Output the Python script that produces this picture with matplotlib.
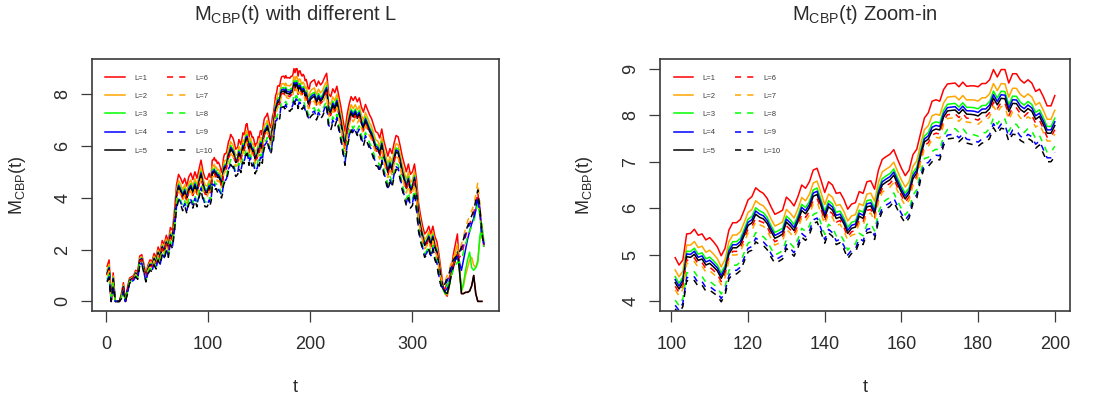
import numpy as np
import matplotlib
matplotlib.use("Agg")
import matplotlib.pyplot as plt
from matplotlib.ticker import FixedLocator

plt.rcParams['font.family'] = ['Liberation Sans', 'DejaVu Sans']
plt.rcParams['mathtext.fontset'] = 'custom'
plt.rcParams['mathtext.rm'] = 'Liberation Sans'
plt.rcParams['mathtext.it'] = 'Liberation Sans:italic'

# ---------------- data ----------------
series_labels = ["L=1", "L=2", "L=3", "L=4", "L=5", "L=6", "L=7", "L=8", "L=9", "L=10"]
series_colors = ["#FF0000", "#FFA500", "#00FF00", "#0000FF", "#000000",
                 "#FF0000", "#FFA500", "#00FF00", "#0000FF", "#000000"]
series_dashed = [False] * 5 + [True] * 5
# position of each L between the L=1 curve (0) and the L=10 curve (1)
series_frac = [0.0, 0.24, 0.37, 0.43, 0.49, 0.56, 0.63, 0.83, 0.93, 1.0]

# early part, t = 1..99 : L=1 curve and gap between L=1 and L=10
t_early = list(range(1, 100, 2))
m1_early = [1.35, 1.6, 0.0, 1.1, 0.0, 0.0, 0.0, 0.3, 0.72, 0.0,
            0.55, 0.9, 0.95, 1.0, 1.2, 1.15, 1.75, 1.8, 1.45, 1.05,
            1.4, 1.6, 1.55, 1.85, 1.7, 2.1, 1.9, 2.35, 2.2, 2.55,
            2.3, 2.85, 2.75, 3.5, 4.5, 4.9, 4.75, 4.55, 4.75, 4.45,
            4.8, 4.95, 4.7, 5.0, 4.75, 5.1, 5.45, 5.0, 4.75, 4.7]
gap_early = [0.6, 0.7, 0.0, 0.5, 0.0, 0.0, 0.0, 0.2, 0.35, 0.0,
             0.25, 0.2, 0.2, 0.2, 0.25, 0.3, 0.35, 0.35, 0.35, 0.3,
             0.35, 0.4, 0.4, 0.45, 0.45, 0.5, 0.5, 0.55, 0.55, 0.6,
             0.6, 0.65, 0.7, 0.8, 0.9, 1.0, 1.0, 1.05, 1.05, 1.05,
             1.05, 1.1, 1.1, 1.1, 1.1, 1.1, 1.15, 1.1, 1.1, 1.05]

# middle part, t = 101..200 (shown in the zoom-in panel)
t_mid = list(range(101, 201))
m1_mid = [4.94, 4.78, 4.89, 5.45, 5.46, 5.55, 5.42, 5.45, 5.32, 5.37,
          5.28, 5.17, 4.98, 5.14, 5.53, 5.69, 5.69, 5.76, 5.96, 6.18,
          6.25, 6.44, 6.37, 6.32, 6.21, 6.03, 5.87, 5.91, 5.96, 6.24,
          6.16, 6.05, 6.25, 6.50, 6.43, 6.57, 6.82, 6.86, 6.61, 6.34,
          6.57, 6.50, 6.32, 6.34, 6.19, 5.98, 6.09, 6.12, 6.36, 6.32,
          6.57, 6.59, 6.41, 6.82, 7.05, 7.11, 7.16, 7.26, 7.05, 6.86,
          6.70, 6.82, 7.15, 7.27, 7.61, 7.94, 8.05, 8.30, 8.33, 8.30,
          8.55, 8.67, 8.68, 8.69, 8.61, 8.71, 8.62, 8.63, 8.63, 8.61,
          8.68, 8.68, 8.76, 8.98, 8.82, 8.98, 8.98, 8.69, 8.89, 8.89,
          8.76, 8.69, 8.76, 8.69, 8.51, 8.56, 8.40, 8.20, 8.20, 8.42]
gap_mid = [1.1, 1.05, 1.0, 1.0, 1.05, 1.1, 1.1, 1.1, 1.1, 1.13,
           1.1, 1.05, 0.99, 1.0, 1.05, 1.1, 1.1, 1.1, 1.1, 1.12,
           1.15, 1.16, 1.15, 1.12, 1.1, 1.08, 1.05, 1.05, 1.05, 1.1,
           1.1, 1.08, 1.1, 1.12, 1.12, 1.14, 1.15, 1.15, 1.12, 1.09,
           1.1, 1.1, 1.1, 1.08, 1.07, 1.06, 1.06, 1.07, 1.08, 1.1,
           1.1, 1.1, 1.08, 1.1, 1.12, 1.12, 1.12, 1.12, 1.08, 1.05,
           1.02, 1.03, 1.05, 1.05, 1.0, 1.05, 1.15, 1.3, 1.28, 1.26,
           1.2, 1.18, 1.18, 1.18, 1.18, 1.2, 1.22, 1.25, 1.27, 1.28,
           1.28, 1.27, 1.26, 1.25, 1.22, 1.26, 1.28, 1.25, 1.3, 1.31,
           1.3, 1.28, 1.26, 1.24, 1.22, 1.2, 1.22, 1.2, 1.2, 1.31]

# late part, t = 202..326
t_late = list(range(202, 327, 2))
m1_late = [8.5, 8.55, 8.3, 8.5, 8.35, 8.45, 8.65, 8.8, 8.0, 7.9,
           8.2, 8.05, 8.3, 7.9, 7.5, 7.0, 6.55, 7.2, 7.6, 7.9,
           7.75, 7.9, 7.7, 7.85, 7.5, 7.3, 7.6, 7.4, 7.2, 7.05,
           6.8, 6.55, 6.5, 6.3, 6.65, 6.2, 5.9, 5.6, 5.9, 5.7,
           6.1, 6.4, 6.35, 6.0, 5.6, 5.3, 5.0, 5.3, 4.9, 5.0,
           5.3, 4.7, 3.8, 3.3, 2.9, 2.6, 2.7, 2.9, 2.6, 2.9,
           2.5, 2.3, 1.8]
gap_late = [1.3] * 50 + [1.2, 1.2, 1.1, 1.0, 0.9, 0.9, 0.9, 0.9, 0.9, 0.9,
                         0.9, 0.9, 0.9]

# tail, t = 328..370, where the curves separate
t_tail = list(range(328, 371, 2))
tail_L1 = [1.2, 0.6, 0.3, 0.2, 0.6, 1.2, 1.8, 2.2, 2.6, 1.4, 0.3, 0.3, 0.35, 0.35, 0.4, 0.6, 1.0, 0.3, 0.0, 0.0, 0.0, np.nan]
tail_L2 = [1.0, 0.5, 0.3, 0.25, 0.6, 1.1, 1.6, 1.9, 2.2, 1.3, 0.4, 0.6, 1.0, 1.3, 1.6, 1.7, 1.4, 1.3, 1.6, 2.4, 2.6, 2.2]
tail_L3 = [0.9, 0.45, 0.3, 0.3, 0.6, 1.0, 1.4, 1.7, 1.9, 1.2, 0.4, 0.7, 1.2, 1.6, 1.9, 1.3, 1.2, 1.3, 1.5, 2.5, 3.0, 2.3]
tail_L4 = [0.9, 0.5, 0.4, 0.5, 0.8, 1.1, 1.4, 1.6, 1.8, 1.5, 1.2, 1.6, 2.0, 2.4, 2.7, 3.0, 3.2, 3.5, 4.0, 3.6, 2.6, 2.2]
tail_L5 = [0.9, 0.5, 0.35, 0.3, 0.6, 1.0, 1.3, 1.6, 1.9, 1.2, 0.3, 0.3, 0.35, 0.35, 0.4, 0.6, 1.0, 0.3, 0.0, 0.0, 0.0, np.nan]
tail_L6 = [0.8, 0.5, 0.5, 0.7, 0.9, 1.2, 1.4, 1.6, 1.8, 1.7, 1.8, 2.1, 2.5, 2.8, 3.0, 3.2, 3.4, 3.8, 4.2, 3.5, 2.6, 2.1]
tail_L7 = [0.9, 0.7, 0.8, 1.0, 1.2, 1.5, 1.7, 1.8, 1.9, 2.0, 2.2, 2.5, 2.8, 3.1, 3.3, 3.5, 3.7, 4.1, 4.6, 3.8, 2.8, 2.1]
tail_L8 = [0.7, 0.5, 0.5, 0.6, 0.8, 1.0, 1.2, 1.4, 1.5, 1.5, 1.6, 1.9, 2.2, 2.5, 2.7, 2.9, 3.1, 3.4, 3.8, 3.3, 2.5, 2.1]
tail_L9 = [0.6, 0.5, 0.6, 0.8, 1.0, 1.3, 1.5, 1.6, 1.7, 1.8, 2.0, 2.3, 2.6, 2.8, 3.0, 3.0, 3.2, 3.6, 4.0, 3.4, 2.6, 2.2]
tail_L10 = [0.6, 0.5, 0.7, 0.9, 1.1, 1.4, 1.6, 1.7, 1.8, 1.9, 2.1, 2.4, 2.7, 2.9, 3.1, 3.3, 3.5, 3.9, 4.3, 3.6, 2.7, 2.1]
tails = [tail_L1, tail_L2, tail_L3, tail_L4, tail_L5,
         tail_L6, tail_L7, tail_L8, tail_L9, tail_L10]

left_xticks = [0, 100, 200, 300]
left_yticks = [0, 2, 4, 6, 8]
right_xticks = [100, 120, 140, 160, 180, 200]
right_yticks = [4, 5, 6, 7, 8, 9]
right_ylim_data = (4, 9)

# ---------------- assemble series ----------------
t_main = np.array(t_early + t_mid + t_late, dtype=float)
m1_main = np.array(m1_early + m1_mid + m1_late)
gap_main = np.array(gap_early + gap_mid + gap_late)
t_full = np.concatenate([t_main, np.array(t_tail, dtype=float)])
n_mid0 = len(t_early)
n_mid1 = n_mid0 + len(t_mid)

full_series = []
for k in range(10):
    main = np.maximum(m1_main - series_frac[k] * gap_main, 0.0)
    full_series.append(np.concatenate([main, np.array(tails[k], dtype=float)]))

# ---------------- figure ----------------
W, H = 1096, 400
fig = plt.figure(figsize=(W / 100, H / 100), dpi=100)
box_top, box_bot = 59.3, 310.7
axL = fig.add_axes([92 / W, 1 - box_bot / H, (499 - 92) / W, (box_bot - box_top) / H])
axR = fig.add_axes([660 / W, 1 - box_bot / H, (1070 - 660) / W, (box_bot - box_top) / H])

TXT = '#2b2b2b'
lw = 1.1
def draw(ax, tt, ys_list):
    handles = []
    for k in range(10):
        kw = dict(color=series_colors[k], lw=lw, label=series_labels[k])
        if series_dashed[k]:
            kw['dashes'] = (4, 4)
        h, = ax.plot(tt, ys_list[k], **kw)
        handles.append(h)
    return handles

hL = draw(axL, t_full, full_series)
hR = draw(axR, t_full[n_mid0:n_mid1], [s[n_mid0:n_mid1] for s in full_series])

def r_lim(lo, hi):
    p = 0.04 * (hi - lo)
    return lo - p, hi + p

axL.set_xlim(*r_lim(np.nanmin(t_full), np.nanmax(t_full)))
axL.set_ylim(*r_lim(0, np.nanmax(np.concatenate(full_series))))
axR.set_xlim(*r_lim(t_mid[0], t_mid[-1]))
axR.set_ylim(*r_lim(*right_ylim_data))

axL.xaxis.set_major_locator(FixedLocator(left_xticks))
axL.yaxis.set_major_locator(FixedLocator(left_yticks))
axR.xaxis.set_major_locator(FixedLocator(right_xticks))
axR.yaxis.set_major_locator(FixedLocator(right_yticks))

for ax in (axL, axR):
    for s in ax.spines.values():
        s.set_linewidth(1.2)
        s.set_color('#3a3a3a')
    ax.tick_params(axis='both', direction='out', length=8, width=0.9,
                   color='#3a3a3a', labelsize=13, labelcolor=TXT)
    ax.tick_params(axis='x', pad=10)
    ax.tick_params(axis='y', pad=7)
    for lab in ax.get_yticklabels():
        lab.set_rotation(90)
        lab.set_va('center')
    ax.legend(ncol=2, loc='upper left', bbox_to_anchor=(0.033, 0.94),
              frameon=False, fontsize=5.5, handlelength=2.6,
              handletextpad=1.2, columnspacing=2.5, labelspacing=1.42,
              borderpad=0, borderaxespad=0, labelcolor='#3a3a3a')

def cx(ax):
    b = ax.get_position()
    return (b.x0 + b.x1) / 2

title_y = 1 - 15 / H
fig.text(cx(axL), title_y, r"M$_{\mathrm{CBP}}$(t) with different L",
         ha='center', va='center', fontsize=14.5, color=TXT)
fig.text(cx(axR), title_y, r"M$_{\mathrm{CBP}}$(t) Zoom-in",
         ha='center', va='center', fontsize=14.5, color=TXT)
ymid = 1 - (box_top + box_bot) / 2 / H
fig.text(17 / W, ymid, r"M$_{\mathrm{CBP}}$(t)", rotation=90,
         ha='center', va='center', fontsize=13, color=TXT)
fig.text(585 / W, ymid, r"M$_{\mathrm{CBP}}$(t)", rotation=90,
         ha='center', va='center', fontsize=13, color=TXT)
fig.text(cx(axL), 1 - 388 / H, "t", ha='center', va='center', fontsize=13, color=TXT)
fig.text(cx(axR), 1 - 388 / H, "t", ha='center', va='center', fontsize=13, color=TXT)

fig.savefig("out.png", dpi=100)
